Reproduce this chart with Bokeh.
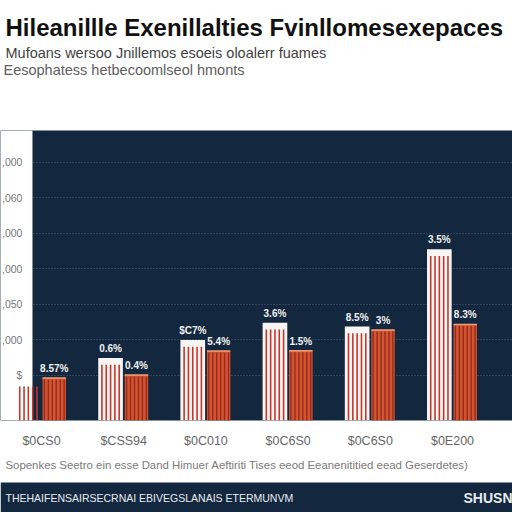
from bokeh.plotting import figure
from bokeh.models import Range1d, FixedTicker, Grid
from bokeh.layouts import column
from bokeh.embed import file_html
from bokeh.resources import INLINE
from bokeh.core.properties import value
import numpy as np

# ---------------- data ----------------
title_text = "Hileanillle Exenillalties Fvinllomesexepaces"
subtitle_1 = "Mufoans wersoo Jnillemos esoeis oloalerr fuames"
subtitle_2 = "Eesophatess hetbecoomlseol hmonts"
categories = ["$0CS0", "$CSS94", "$0C010", "$0C6S0", "$0C6S0", "$0E200"]
white_values = [870, 1480, 1990, 2480, 2370, 4550]
orange_values = [920, 1000, 1680, 1685, 2270, 2430]
white_labels = ["", "0.6%", "$C7%", "3.6%", "8.5%", "3.5%"]
orange_labels = ["8.57%", "0.4%", "5.4%", "1.5%", "3%", "8.3%"]
y_ticks = [1000, 2000, 3000, 4000, 5000, 6000, 7000]
y_tick_labels = ["$", ",000", ",050", ",000", ",000", ",060", ",000"]
footnote = "Sopenkes Seetro ein esse Dand Himuer Aeftiriti Tises eeod Eeanenititied eead Geserdetes)"
footer_left = "THEHAIFENSAIRSECRNAI EBIVEGSLANAIS ETERMUNVM"
footer_right = "SHUSN"

# ---------------- style ----------------
NAVY = "#13283f"
FONT = value("Liberation Sans")
W = 512
Y0, Y1 = -280, 7900
X0, X1 = -0.499, 5.73
STRIP_RIGHT = -0.11      # right edge of the white strip left of the plot area
YLABEL_X = -0.232        # where the y tick labels end

# ---------------- header ----------------
HH = 118
hdr = figure(width=W, height=HH, x_range=Range1d(0, W), y_range=Range1d(HH, 0),
             output_backend="svg", toolbar_location=None, x_axis_type=None, y_axis_type=None,
             min_border=0, outline_line_color=None, background_fill_color="white",
             border_fill_color="white")
hdr.grid.visible = False
hdr.text(x=[5], y=[27], text=[title_text], text_font=FONT, text_font_size="24px",
         text_font_style="bold", text_color="#111111", text_baseline="middle")
hdr.text(x=[5], y=[52], text=[subtitle_1], text_font=FONT, text_font_size="14.5px",
         text_color="#3f3f3f", text_baseline="middle")
hdr.text(x=[3], y=[69], text=[subtitle_2], text_font=FONT, text_font_size="14.5px",
         text_color="#606060", text_baseline="middle")

# ---------------- main chart ----------------
p = figure(width=W, height=332, x_range=Range1d(X0, X1), y_range=Range1d(Y0, Y1),
           output_backend="svg", toolbar_location=None, y_axis_location=None,
           min_border_top=12, min_border_bottom=27, min_border_left=0, min_border_right=0,
           background_fill_color=NAVY, border_fill_color="white", outline_line_color=None)
p.grid.visible = False
p.add_layout(Grid(dimension=1, ticker=FixedTicker(ticks=y_ticks), grid_line_color="#8a9ab0",
                  grid_line_alpha=0.5, grid_line_dash="1 2"))

# white strip at the left of the plot area
p.quad(left=[X0], right=[STRIP_RIGHT], bottom=[Y0], top=[Y1], fill_color="white", line_color=None)

# y tick labels sitting on the white strip
p.text(x=YLABEL_X, y=y_ticks, text=y_tick_labels, text_font=FONT, text_font_size="10.5px",
       text_color="#777777", text_align="right", text_baseline="middle")

xc = np.arange(len(categories), dtype=float)
xw = xc - 0.16
xo = xc + 0.155
wv = np.array(white_values, dtype=float)
ov = np.array(orange_values, dtype=float)

# white bars (the first one shows only its stripes, as in the reference)
white_fill_alpha = [0.0, 1, 1, 1, 1, 1]
p.vbar(x=xw, top=wv, bottom=Y0, width=0.30, fill_color="#f7f5f3",
       fill_alpha=white_fill_alpha, line_color=None)
w_off = np.linspace(-0.105, 0.105, 5)
sx = (xw[:, None] + w_off[None, :]).ravel()
sy = np.repeat(wv - 190, len(w_off))
p.segment(x0=sx, y0=Y0, x1=sx, y1=sy, line_color="#c0392f", line_width=1.6)

# orange bars
p.vbar(x=xo, top=ov, bottom=Y0, width=0.285, fill_color="#d2552e", line_color=None)
p.segment(x0=xo - 0.1425, y0=ov, x1=xo + 0.1425, y1=ov, line_color="#f0a27c", line_width=1.5)
o_off = np.linspace(-0.12, 0.12, 6)
ox = (xo[:, None] + o_off[None, :]).ravel()
oy = np.repeat(ov - 40, len(o_off))
p.segment(x0=ox, y0=Y0, x1=ox, y1=oy, line_color="#992a22", line_width=1.4)

# value labels
p.text(x=xw, y=wv, text=white_labels, text_font=FONT, text_font_size="10px",
       text_font_style="bold", text_color="#f2f2f2", text_align="center",
       text_baseline="bottom", y_offset=-4)
p.text(x=xo, y=ov, text=orange_labels, text_font=FONT, text_font_size="10px",
       text_font_style="bold", text_color="#f2f2f2", text_align="center",
       text_baseline="bottom", y_offset=-4)

# x axis
p.xaxis.ticker = FixedTicker(ticks=list(xc))
p.xaxis.major_label_overrides = {float(i): c for i, c in enumerate(categories)}
p.xaxis.major_label_text_font = "Liberation Sans"
p.xaxis.major_label_text_font_size = "12.5px"
p.xaxis.major_label_text_color = "#666666"
p.xaxis.major_label_standoff = 7
p.xaxis.axis_line_color = None
p.xaxis.major_tick_line_color = None
p.xaxis.minor_tick_line_color = None

# ---------------- footer ----------------
FH = 62
ftr = figure(width=W, height=FH, x_range=Range1d(0, W), y_range=Range1d(FH, 0),
             output_backend="svg", toolbar_location=None, x_axis_type=None, y_axis_type=None,
             min_border=0, outline_line_color=None, background_fill_color="white",
             border_fill_color="white")
ftr.grid.visible = False
ftr.quad(left=[0], right=[W], top=[32], bottom=[FH], fill_color=NAVY, line_color=None)
ftr.text(x=[5], y=[14], text=[footnote], text_font=FONT, text_font_size="11.4px",
         text_color="#7a7a7a", text_baseline="middle")
ftr.text(x=[5], y=[47], text=[footer_left], text_font=FONT, text_font_size="10.5px",
         text_color="#e8ecf0", text_baseline="middle")
ftr.text(x=[W], y=[47], text=[footer_right], text_font=FONT, text_font_size="14px",
         text_font_style="bold", text_color="#e8ecf0", text_baseline="middle", text_align="right")

layout = column(hdr, p, ftr, spacing=0)
open("out.html", "w").write(file_html(layout, INLINE))
